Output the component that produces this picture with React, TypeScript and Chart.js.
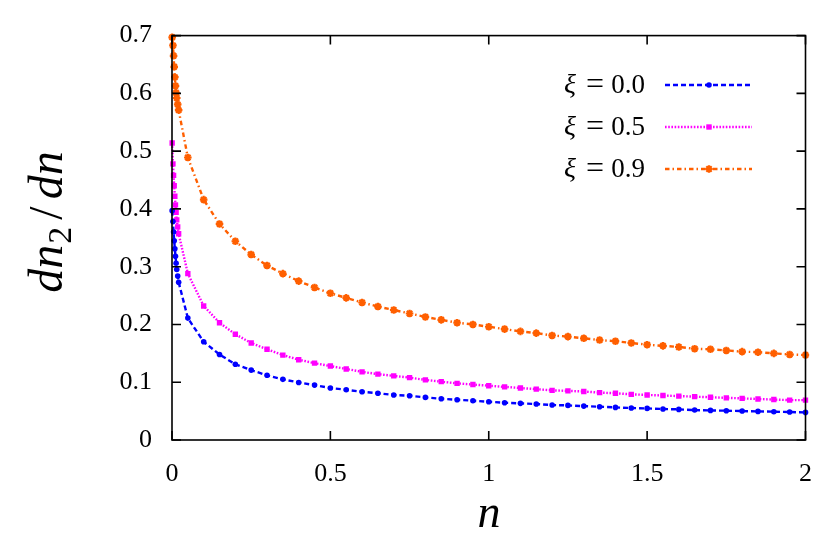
import React, { useEffect, useRef } from 'react';
import { Chart, registerables } from 'chart.js';
import { drawPoint } from 'chart.js/helpers';

Chart.register(...registerables);

// x samples: dense near zero, then every 0.05
const xNear = [0.0005, 0.003, 0.005, 0.007, 0.009, 0.011, 0.013, 0.015, 0.018, 0.021];
const xMain = [
  0.05, 0.1, 0.15, 0.2, 0.25, 0.3, 0.35, 0.4, 0.45, 0.5,
  0.55, 0.6, 0.65, 0.7, 0.75, 0.8, 0.85, 0.9, 0.95, 1.0,
  1.05, 1.1, 1.15, 1.2, 1.25, 1.3, 1.35, 1.4, 1.45, 1.5,
  1.55, 1.6, 1.65, 1.7, 1.75, 1.8, 1.85, 1.9, 1.95, 2.0,
];

// xi = 0.0
const xi00Near = [0.397, 0.378, 0.360, 0.345, 0.331, 0.318, 0.306, 0.295, 0.284, 0.273];
const xi00Main = [
  0.211, 0.170, 0.148, 0.131, 0.121, 0.112, 0.105, 0.0996, 0.095, 0.090,
  0.087, 0.0835, 0.081, 0.078, 0.0766, 0.0737, 0.0714, 0.0697, 0.068, 0.0662,
  0.0645, 0.0634, 0.0622, 0.0605, 0.0599, 0.0587, 0.0576, 0.0564, 0.0553, 0.0547,
  0.0536, 0.053, 0.0518, 0.0512, 0.0507, 0.0501, 0.0495, 0.049, 0.0484, 0.0478,
];

// xi = 0.5
const xi05Near = [0.514, 0.478, 0.458, 0.440, 0.422, 0.407, 0.394, 0.381, 0.369, 0.357];
const xi05Main = [
  0.288, 0.232, 0.203, 0.183, 0.168, 0.157, 0.147, 0.139, 0.133, 0.128,
  0.123, 0.118, 0.114, 0.111, 0.108, 0.104, 0.101, 0.098, 0.096, 0.094,
  0.092, 0.090, 0.088, 0.086, 0.085, 0.084, 0.082, 0.081, 0.079, 0.078,
  0.077, 0.076, 0.075, 0.074, 0.073, 0.072, 0.071, 0.070, 0.069, 0.069,
];

// xi = 0.9
const xi09Near = [0.697, 0.683, 0.665, 0.646, 0.628, 0.613, 0.601, 0.592, 0.581, 0.571];
const xi09Main = [
  0.489, 0.416, 0.374, 0.344, 0.321, 0.302, 0.288, 0.275, 0.264, 0.254,
  0.246, 0.238, 0.231, 0.225, 0.219, 0.213, 0.208, 0.203, 0.200, 0.196,
  0.192, 0.188, 0.185, 0.181, 0.179, 0.176, 0.173, 0.171, 0.168, 0.165,
  0.163, 0.161, 0.158, 0.157, 0.155, 0.153, 0.152, 0.150, 0.148, 0.147,
];

const legendValues = ['0.0', '0.5', '0.9'];
const xTicks = [0, 0.5, 1, 1.5, 2];
const yTicks = [0, 0.1, 0.2, 0.3, 0.4, 0.5, 0.6, 0.7];

const SERIF = "'Liberation Serif', 'Times New Roman', serif";

const xs = [...xNear, ...xMain];
const toPoints = (ys: number[]) => xs.map((x, i) => ({ x, y: ys[i] }));

const seriesStyles = [
  { color: '#0000ff', dash: [5, 3], style: 'circle', radius: 2.8, pbw: 0 },
  { color: '#ff00ff', dash: [1.6, 1.6], style: 'rect', radius: 3.8, pbw: 0 },
  { color: '#ff5f00', dash: [4.5, 3, 1.5, 3], style: 'star', radius: 3.8, pbw: 2.2 },
];

const framePlugin = {
  id: 'gnuFrame',
  afterDraw(chart: any) {
    const { ctx, chartArea: a, scales } = chart;
    ctx.save();
    // frame
    ctx.strokeStyle = '#000';
    ctx.lineWidth = 1.6;
    ctx.setLineDash([]);
    ctx.strokeRect(a.left, a.top, a.right - a.left, a.bottom - a.top);
    const L = 9;
    ctx.beginPath();
    for (const v of xTicks) {
      const px = scales.x.getPixelForValue(v);
      ctx.moveTo(px, a.bottom);
      ctx.lineTo(px, a.bottom - L);
      ctx.moveTo(px, a.top);
      ctx.lineTo(px, a.top + L);
    }
    for (const v of yTicks) {
      const py = scales.y.getPixelForValue(v);
      ctx.moveTo(a.left, py);
      ctx.lineTo(a.left + L, py);
      ctx.moveTo(a.right, py);
      ctx.lineTo(a.right - L, py);
    }
    ctx.stroke();

    // legend
    const rowY0 = 85;
    const rowGap = 42;
    const textRight = 645;
    chart.data.datasets.forEach((ds: any, i: number) => {
      const y = rowY0 + i * rowGap;
      ctx.fillStyle = '#000';
      ctx.textBaseline = 'middle';
      ctx.textAlign = 'right';
      ctx.font = `27px ${SERIF}`;
      ctx.fillText(legendValues[i], textRight, y + 1);
      ctx.font = `32px ${SERIF}`;
      ctx.fillText('=', textRight - 41, y + 1);
      ctx.font = `italic 28px ${SERIF}`;
      ctx.fillText('ξ', textRight - 69, y + 1);
      // sample line
      const s = seriesStyles[i];
      ctx.strokeStyle = s.color;
      ctx.fillStyle = s.color;
      ctx.lineWidth = 2.4;
      ctx.setLineDash(s.dash);
      ctx.beginPath();
      ctx.moveTo(665, y);
      ctx.lineTo(752, y);
      ctx.stroke();
      ctx.setLineDash([]);
      ctx.lineWidth = s.pbw;
      drawPoint(ctx, { pointStyle: s.style, radius: s.radius, rotation: 0, borderWidth: s.pbw } as any, 709, y);
    });

    // x title
    ctx.fillStyle = '#000';
    ctx.textAlign = 'center';
    ctx.textBaseline = 'alphabetic';
    ctx.font = `italic 46px ${SERIF}`;
    ctx.fillText('n', 489, 527);

    // y title: dn_2/dn, rotated
    ctx.translate(62, 222);
    ctx.rotate(-Math.PI / 2);
    const big = `italic 48px ${SERIF}`;
    const sub = `34px ${SERIF}`;
    const up = `48px ${SERIF}`;
    const parts = [
      { t: 'dn', f: big, dy: 0, gap: 1 },
      { t: '2', f: sub, dy: 9, gap: 7 },
      { t: '/', f: up, dy: 0, gap: 7 },
      { t: 'dn', f: big, dy: 0, gap: 0 },
    ];
    let total = 0;
    for (const p of parts) {
      ctx.font = p.f;
      total += ctx.measureText(p.t).width + p.gap;
    }
    let x = -total / 2;
    ctx.textAlign = 'left';
    for (const p of parts) {
      ctx.font = p.f;
      ctx.fillText(p.t, x, p.dy);
      x += ctx.measureText(p.t).width + p.gap;
    }
    ctx.restore();
  },
};

export default function App() {
  const ref = useRef<HTMLCanvasElement | null>(null);
  useEffect(() => {
    if (!ref.current) return;
    const allYs = [
      [...xi00Near, ...xi00Main],
      [...xi05Near, ...xi05Main],
      [...xi09Near, ...xi09Main],
    ];
    const chart = new Chart(ref.current, {
      type: 'line',
      data: {
        datasets: allYs.map((ys, i) => {
          const s = seriesStyles[i];
          return {
            label: 'xi = ' + legendValues[i],
            data: toPoints(ys),
            borderColor: s.color,
            backgroundColor: s.color,
            borderWidth: 2.4,
            borderDash: s.dash,
            pointStyle: s.style,
            pointRadius: s.radius,
            pointBorderWidth: s.pbw,
            pointBorderColor: s.color,
            pointBackgroundColor: s.color,
            tension: 0,
            fill: false,
            clip: 4,
          } as any;
        }),
      },
      options: {
        responsive: false,
        animation: false,
        events: [],
        layout: { padding: { left: 0, top: 35, right: 23, bottom: 0 } },
        plugins: { legend: { display: false }, tooltip: { enabled: false }, title: { display: false } },
        scales: {
          x: {
            type: 'linear',
            min: 0,
            max: 2,
            grid: { display: false, drawTicks: false },
            border: { display: false },
            afterFit: (s: any) => { s.height = 108; },
            afterBuildTicks: (s: any) => { s.ticks = xTicks.map((v) => ({ value: v })); },
            ticks: {
              padding: 19,
              color: '#000',
              font: { family: SERIF, size: 26 },
              maxRotation: 0,
              callback: (v: any) => String(Number(v)),
            },
          },
          y: {
            type: 'linear',
            min: 0,
            max: 0.7,
            grid: { display: false, drawTicks: false },
            border: { display: false },
            afterFit: (s: any) => { s.width = 172; },
            afterBuildTicks: (s: any) => { s.ticks = yTicks.map((v) => ({ value: v })); },
            ticks: {
              padding: 20,
              color: '#000',
              font: { family: SERIF, size: 26 },
              callback: (v: any) => (Number(v) === 0 ? '0' : Number(v).toFixed(1)),
            },
          },
        },
      },
      plugins: [framePlugin],
    } as any);
    return () => chart.destroy();
  }, []);
  return (
    <div style={{ position: 'absolute', left: 0, top: 0, width: 831, height: 548, background: '#fff' }}>
      <canvas ref={ref} width={831} height={548} style={{ display: 'block' }} />
    </div>
  );
}
